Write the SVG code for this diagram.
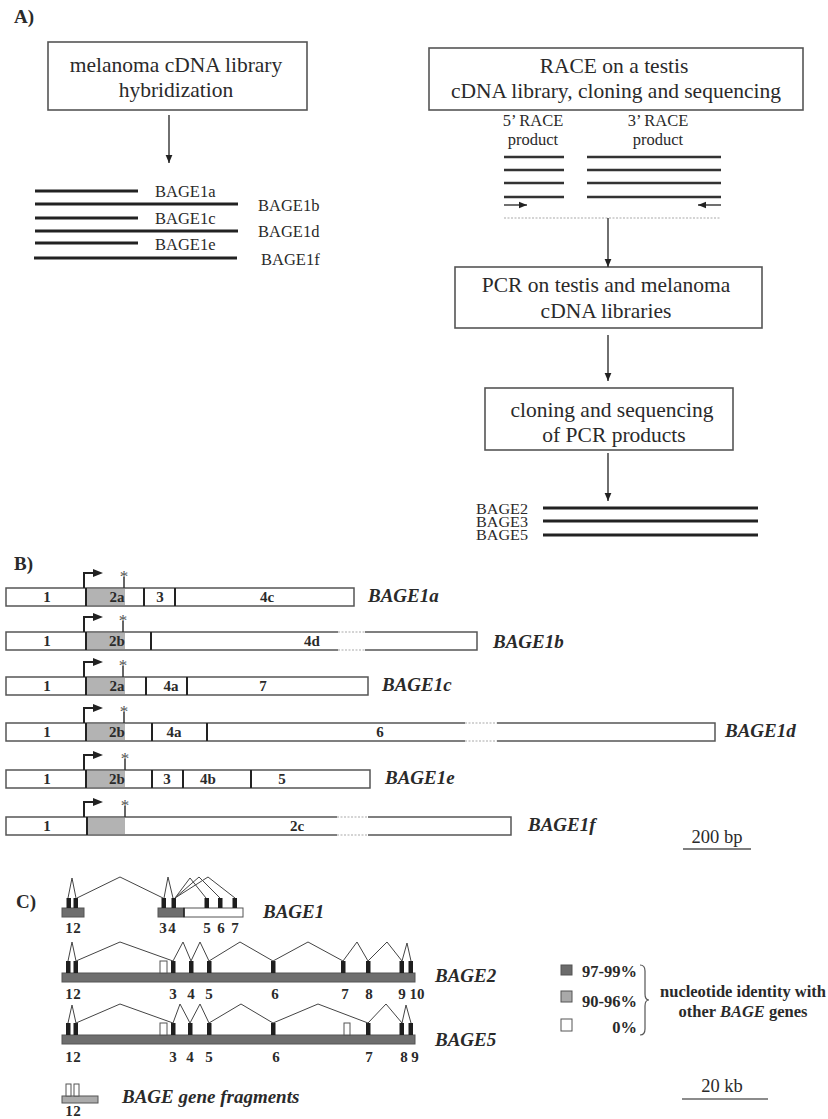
<svg xmlns="http://www.w3.org/2000/svg" width="828" height="1119" viewBox="0 0 828 1119">
<defs>
<style>
.t{font-family:"Liberation Serif","Times New Roman",serif;fill:#2a2a2a}
.ta{font-size:21.5px;text-anchor:middle}
.lab{font-size:16.5px}
.pl{font-size:19px;font-weight:bold}
.bn{font-size:15px;font-weight:bold;text-anchor:middle}
.gn{font-size:19px;font-weight:bold;font-style:italic}
.lg{font-size:16.5px;font-weight:bold}
.ast{font-family:"Liberation Serif","Times New Roman",serif;font-size:17px;text-anchor:middle;fill:#555}
.box{fill:#fff;stroke:#555;stroke-width:1.6}
.seg{fill:#fff;stroke:#555;stroke-width:1.5}
.shade{fill:#b3b3b3}
.div{stroke:#222;stroke-width:2}
.strand{stroke:#222;stroke-width:3}
.conn{stroke:#333;stroke-width:1.4;fill:none}
.exon{fill:#1e1e1e}
.intr{stroke:#444;stroke-width:1;fill:none}
.gbar{fill:#6e6e6e;stroke:#555;stroke-width:1}
.lbar{fill:#ababab;stroke:#555;stroke-width:1}
.wbox{fill:#fff;stroke:#555;stroke-width:1}
.dot{stroke:#aaa;stroke-width:1.2;stroke-dasharray:2,1.5}
.prom{stroke:#222;stroke-width:2;fill:none}
.astl{stroke:#333;stroke-width:1.5}
</style>
<marker id="ah" viewBox="0 0 10 10" refX="10" refY="5" markerWidth="8" markerHeight="8" markerUnits="userSpaceOnUse" orient="auto"><path d="M0,0.8 L10,5 L0,9.2 z" fill="#222"/></marker>
</defs>
<rect width="828" height="1119" fill="#fff"/>

<!-- Part A -->
<text class="t pl" x="14" y="23">A)</text>
<g id="box-hybrid">
<rect class="box" x="48" y="42" width="259" height="68"/>
<text class="t ta" x="176" y="72">melanoma cDNA library</text>
<text class="t ta" x="176" y="97">hybridization</text>
</g>
<g id="bage1-clones">
<line class="strand" x1="35" y1="191" x2="138" y2="191"/>
<line class="strand" x1="35" y1="204" x2="238" y2="204"/>
<line class="strand" x1="35" y1="218" x2="138" y2="218"/>
<line class="strand" x1="35" y1="231" x2="238" y2="231"/>
<line class="strand" x1="35" y1="243" x2="138" y2="243"/>
<line class="strand" x1="34" y1="258" x2="237" y2="258"/>
<text class="t lab" x="155" y="197">BAGE1a</text>
<text class="t lab" x="258" y="211">BAGE1b</text>
<text class="t lab" x="155" y="224">BAGE1c</text>
<text class="t lab" x="258" y="237">BAGE1d</text>
<text class="t lab" x="155" y="250">BAGE1e</text>
<text class="t lab" x="261" y="265">BAGE1f</text>
</g>
<g id="box-race">
<rect class="box" x="429" y="48" width="374" height="62"/>
<text class="t ta" x="614" y="73">RACE on a testis</text>
<text class="t ta" x="616" y="98">cDNA library, cloning and sequencing</text>
</g>
<g id="race-products">
<text class="t lab" x="533" y="126" text-anchor="middle">5’ RACE</text>
<text class="t lab" x="533" y="145" text-anchor="middle">product</text>
<text class="t lab" x="658" y="126" text-anchor="middle">3’ RACE</text>
<text class="t lab" x="658" y="145" text-anchor="middle">product</text>
<g stroke="#333" stroke-width="2.5">
<line x1="504" y1="157" x2="564" y2="157"/><line x1="504" y1="170" x2="564" y2="170"/>
<line x1="504" y1="183" x2="564" y2="183"/><line x1="504" y1="197" x2="564" y2="197"/>
<line x1="587" y1="157" x2="721" y2="157"/><line x1="587" y1="170" x2="721" y2="170"/>
<line x1="587" y1="183" x2="721" y2="183"/><line x1="587" y1="197" x2="721" y2="197"/>
</g>
<line class="conn" x1="504" y1="205" x2="527" y2="205" marker-end="url(#ah)"/>
<line class="conn" x1="721" y1="205" x2="698" y2="205" marker-end="url(#ah)"/>
<line class="dot" x1="504" y1="218" x2="721" y2="218"/>
</g>
<g id="box-pcr">
<rect class="box" x="455" y="267" width="307" height="61"/>
<text class="t ta" x="606" y="292">PCR on testis and melanoma</text>
<text class="t ta" x="606" y="318">cDNA libraries</text>
</g>
<g id="box-cloning">
<rect class="box" x="485" y="388" width="248" height="62"/>
<text class="t ta" x="612" y="417">cloning and sequencing</text>
<text class="t ta" x="614" y="442">of PCR products</text>
</g>
<g id="bage-products">
<line class="strand" x1="543" y1="508" x2="758" y2="508"/>
<line class="strand" x1="543" y1="521" x2="758" y2="521"/>
<line class="strand" x1="543" y1="535" x2="758" y2="535"/>
<text class="t" font-size="15" x="528" y="514" text-anchor="end" textLength="52" lengthAdjust="spacingAndGlyphs">BAGE2</text>
<text class="t" font-size="15" x="528" y="527" text-anchor="end" textLength="52" lengthAdjust="spacingAndGlyphs">BAGE3</text>
<text class="t" font-size="15" x="528" y="540" text-anchor="end" textLength="52" lengthAdjust="spacingAndGlyphs">BAGE5</text>
</g>
<g id="connectors">
<line class="conn" x1="169" y1="115" x2="169" y2="163" marker-end="url(#ah)"/>
<line class="conn" x1="608" y1="218" x2="608" y2="267" marker-end="url(#ah)"/>
<line class="conn" x1="608" y1="335" x2="608" y2="381" marker-end="url(#ah)"/>
<line class="conn" x1="608" y1="453" x2="608" y2="501" marker-end="url(#ah)"/>
</g>

<!-- Part B -->
<text class="t pl" x="14" y="570">B)</text>
<g id="bage1a">
<rect class="seg" x="6" y="588" width="348" height="18"/>
<rect class="shade" x="86" y="589" width="39" height="16"/>
<line class="div" x1="86" y1="588" x2="86" y2="606"/>
<line class="div" x1="144" y1="588" x2="144" y2="606"/>
<line class="div" x1="175" y1="588" x2="175" y2="606"/>
<path class="prom" d="M84,588 V573 H94"/><polygon points="93,569 103,573 93,577" fill="#222"/>
<line class="astl" x1="124" y1="588" x2="124" y2="577"/><text class="ast" x="124" y="582">*</text>
<text class="t bn" x="47" y="602">1</text><text class="t bn" x="117" y="602">2a</text><text class="t bn" x="160" y="602">3</text><text class="t bn" x="267" y="602">4c</text>
<text class="t gn" x="368" y="602">BAGE1a</text>
</g>
<g id="bage1b">
<rect class="seg" x="6" y="632" width="471" height="18"/>
<rect class="shade" x="86" y="633" width="39" height="16"/>
<line class="div" x1="86" y1="632" x2="86" y2="650"/>
<line class="div" x1="151" y1="632" x2="151" y2="650"/>
<rect x="338" y="630" width="27" height="22" fill="#fff"/>
<line class="dot" x1="338" y1="632" x2="365" y2="632"/><line class="dot" x1="338" y1="650" x2="365" y2="650"/>
<path class="prom" d="M84,632 V617 H94"/><polygon points="93,613 103,617 93,621" fill="#222"/>
<line class="astl" x1="123" y1="632" x2="123" y2="621"/><text class="ast" x="123" y="626">*</text>
<text class="t bn" x="47" y="646">1</text><text class="t bn" x="117" y="646">2b</text><text class="t bn" x="312" y="646">4d</text>
<text class="t gn" x="493" y="648">BAGE1b</text>
</g>
<g id="bage1c">
<rect class="seg" x="6" y="677" width="362" height="18"/>
<rect class="shade" x="86" y="678" width="39" height="16"/>
<line class="div" x1="86" y1="677" x2="86" y2="695"/>
<line class="div" x1="146" y1="677" x2="146" y2="695"/>
<line class="div" x1="187" y1="677" x2="187" y2="695"/>
<path class="prom" d="M84,677 V662 H94"/><polygon points="93,658 103,662 93,666" fill="#222"/>
<line class="astl" x1="123" y1="677" x2="123" y2="666"/><text class="ast" x="123" y="671">*</text>
<text class="t bn" x="47" y="691">1</text><text class="t bn" x="117" y="691">2a</text><text class="t bn" x="171" y="691">4a</text><text class="t bn" x="263" y="691">7</text>
<text class="t gn" x="382" y="691">BAGE1c</text>
</g>
<g id="bage1d">
<rect class="seg" x="6" y="723" width="709" height="18"/>
<rect class="shade" x="86" y="724" width="39" height="16"/>
<line class="div" x1="86" y1="723" x2="86" y2="741"/>
<line class="div" x1="152" y1="723" x2="152" y2="741"/>
<line class="div" x1="207" y1="723" x2="207" y2="741"/>
<rect x="465" y="721" width="32" height="22" fill="#fff"/>
<line class="dot" x1="465" y1="723" x2="497" y2="723"/><line class="dot" x1="465" y1="741" x2="497" y2="741"/>
<path class="prom" d="M84,723 V708 H94"/><polygon points="93,704 103,708 93,712" fill="#222"/>
<line class="astl" x1="124" y1="723" x2="124" y2="712"/><text class="ast" x="124" y="717">*</text>
<text class="t bn" x="47" y="737">1</text><text class="t bn" x="117" y="737">2b</text><text class="t bn" x="174" y="737">4a</text><text class="t bn" x="380" y="737">6</text>
<text class="t gn" x="725" y="737">BAGE1d</text>
</g>
<g id="bage1e">
<rect class="seg" x="6" y="770" width="364" height="18"/>
<rect class="shade" x="86" y="771" width="39" height="16"/>
<line class="div" x1="86" y1="770" x2="86" y2="788"/>
<line class="div" x1="152" y1="770" x2="152" y2="788"/>
<line class="div" x1="183" y1="770" x2="183" y2="788"/>
<line class="div" x1="251" y1="770" x2="251" y2="788"/>
<path class="prom" d="M84,770 V755 H94"/><polygon points="93,751 103,755 93,759" fill="#222"/>
<line class="astl" x1="125" y1="770" x2="125" y2="759"/><text class="ast" x="125" y="764">*</text>
<text class="t bn" x="47" y="784">1</text><text class="t bn" x="117" y="784">2b</text><text class="t bn" x="167" y="784">3</text><text class="t bn" x="208" y="784">4b</text><text class="t bn" x="282" y="784">5</text>
<text class="t gn" x="385" y="784">BAGE1e</text>
</g>
<g id="bage1f">
<rect class="seg" x="6" y="817" width="505" height="18"/>
<rect class="shade" x="86" y="818" width="39" height="16"/>
<line class="div" x1="87" y1="817" x2="87" y2="835" stroke-width="2.5"/>
<rect x="337" y="815" width="31" height="22" fill="#fff"/>
<line class="dot" x1="337" y1="817" x2="368" y2="817"/><line class="dot" x1="337" y1="835" x2="368" y2="835"/>
<path class="prom" d="M84,817 V802 H94"/><polygon points="93,798 103,802 93,806" fill="#222"/>
<line class="astl" x1="125" y1="817" x2="125" y2="806"/><text class="ast" x="125" y="811">*</text>
<text class="t bn" x="47" y="831">1</text><text class="t bn" x="297" y="831">2c</text>
<text class="t gn" x="528" y="831">BAGE1f</text>
</g>
<g id="scale-bp">
<text class="t" font-size="18.5" x="717" y="843" text-anchor="middle">200 bp</text>
<line x1="683" y1="849" x2="751" y2="849" stroke="#555" stroke-width="1.5"/>
</g>

<!-- Part C -->
<text class="t pl" x="16" y="908">C)</text>
<g id="gene-bage1">
<rect class="gbar" x="62" y="908" width="22" height="9"/>
<rect class="gbar" x="158" y="908" width="26" height="9"/>
<rect class="wbox" x="184" y="908" width="59" height="9"/>
<line x1="184" y1="908" x2="184" y2="917" stroke="#222" stroke-width="1.5"/>
<rect class="exon" x="66.5" y="898" width="4.5" height="10"/><rect class="exon" x="73.5" y="898" width="4.5" height="10"/>
<rect class="exon" x="161.5" y="898" width="4.5" height="10"/><rect class="exon" x="171.5" y="898" width="4.5" height="10"/>
<rect class="exon" x="204.5" y="898" width="4.5" height="10"/><rect class="exon" x="218" y="898" width="4.5" height="10"/>
<rect class="exon" x="232.5" y="898" width="4.5" height="10"/>
<path class="intr" d="M68,898 L72,878 L76,898 M77,898 L120,877 L163,898 M164,898 L168,877 L173,898 M175,898 L190,878 L206,898 M175,898 L199,877 L220,898 M175,898 L208,877 L235,898"/>
<g class="t bn"><text x="69" y="933">1</text><text x="77" y="933">2</text><text x="163" y="933">3</text><text x="172" y="933">4</text><text x="207" y="933">5</text><text x="221" y="933">6</text><text x="235" y="933">7</text></g>
<text class="t gn" font-size="18.5" x="263" y="918">BAGE1</text>
</g>
<g id="gene-bage2">
<rect class="gbar" x="62" y="973" width="353" height="9"/>
<rect class="wbox" x="160" y="961" width="7" height="12"/>
<g class="exon"><rect x="66" y="961" width="4.5" height="12"/><rect x="73.5" y="961" width="4.5" height="12"/><rect x="171" y="961" width="4.5" height="12"/><rect x="189" y="961" width="4.5" height="12"/><rect x="207" y="961" width="4.5" height="12"/><rect x="271" y="961" width="4.5" height="12"/><rect x="341" y="961" width="4.5" height="12"/><rect x="366" y="961" width="4.5" height="12"/><rect x="399.5" y="961" width="4.5" height="12"/><rect x="408.5" y="961" width="4.5" height="12"/></g>
<path class="intr" d="M68,961 L72,942 L76,961 L120,942 L173,961 L183,942 L191,961 L200,942 L209,961 L240,942 L273,961 L308,942 L343,961 L357,942 L368,961 L387,942 L402,961 L407,943 L411,961"/>
<g class="t bn"><text x="69" y="999">1</text><text x="77" y="999">2</text><text x="173" y="999">3</text><text x="191" y="999">4</text><text x="209" y="999">5</text><text x="275" y="999">6</text><text x="345" y="999">7</text><text x="369" y="999">8</text><text x="402" y="999">9</text><text x="417" y="999">10</text></g>
<text class="t gn" font-size="18.5" x="435" y="982">BAGE2</text>
</g>
<g id="gene-bage5">
<rect class="gbar" x="62" y="1035" width="353" height="9"/>
<rect class="wbox" x="160" y="1023" width="7" height="12"/>
<rect class="wbox" x="344" y="1023" width="6" height="12"/>
<g class="exon"><rect x="66" y="1023" width="4.5" height="12"/><rect x="73.5" y="1023" width="4.5" height="12"/><rect x="171" y="1023" width="4.5" height="12"/><rect x="188" y="1023" width="4.5" height="12"/><rect x="207" y="1023" width="4.5" height="12"/><rect x="271" y="1023" width="4.5" height="12"/><rect x="366" y="1023" width="4.5" height="12"/><rect x="399.5" y="1023" width="4.5" height="12"/><rect x="408.5" y="1023" width="4.5" height="12"/></g>
<path class="intr" d="M68,1023 L72,1005 L76,1023 L120,1004 L173,1023 L180,1004 L190,1023 L200,1004 L209,1023 L241,1004 L273,1023 L318,1004 L368,1023 L386,1004 L402,1023 L406,1005 L411,1023"/>
<g class="t bn"><text x="69" y="1062">1</text><text x="77" y="1062">2</text><text x="173" y="1062">3</text><text x="190" y="1062">4</text><text x="209" y="1062">5</text><text x="276" y="1062">6</text><text x="369" y="1062">7</text><text x="404" y="1062">8</text><text x="415" y="1062">9</text></g>
<text class="t gn" font-size="18.5" x="435" y="1046">BAGE5</text>
</g>
<g id="gene-fragments">
<rect class="lbar" x="62" y="1096" width="36" height="7"/>
<rect class="wbox" x="66" y="1084" width="5" height="12"/><rect class="wbox" x="74" y="1084" width="5" height="12"/>
<g class="t bn"><text x="69" y="1116">1</text><text x="77" y="1116">2</text></g>
<text class="t gn" font-size="18.5" x="122" y="1103">BAGE gene fragments</text>
</g>
<g id="legend">
<rect x="561" y="965" width="11" height="10" fill="#6b6b6b" stroke="#555"/>
<rect x="561" y="991" width="11" height="11" fill="#a9a9a9" stroke="#555"/>
<rect x="561" y="1019" width="11" height="12" fill="#fff" stroke="#555"/>
<text class="t lg" x="582" y="977">97-99%</text>
<text class="t lg" x="582" y="1007">90-96%</text>
<text class="t lg" x="637" y="1033" text-anchor="end">0%</text>
<path d="M640,965 Q645,965 645,971 V994 Q645,1000 649,1000 Q645,1000 645,1006 V1029 Q645,1035 640,1035" fill="none" stroke="#555" stroke-width="1.2"/>
<text class="t lg" x="743" y="997" text-anchor="middle">nucleotide identity with</text>
<text class="t lg" x="743" y="1017" text-anchor="middle">other <tspan font-style="italic">BAGE</tspan> genes</text>
</g>
<g id="scale-kb">
<text class="t" font-size="18.5" x="722" y="1092" text-anchor="middle">20 kb</text>
<line x1="682" y1="1099" x2="768" y2="1099" stroke="#666" stroke-width="1.5"/>
</g>
</svg>
